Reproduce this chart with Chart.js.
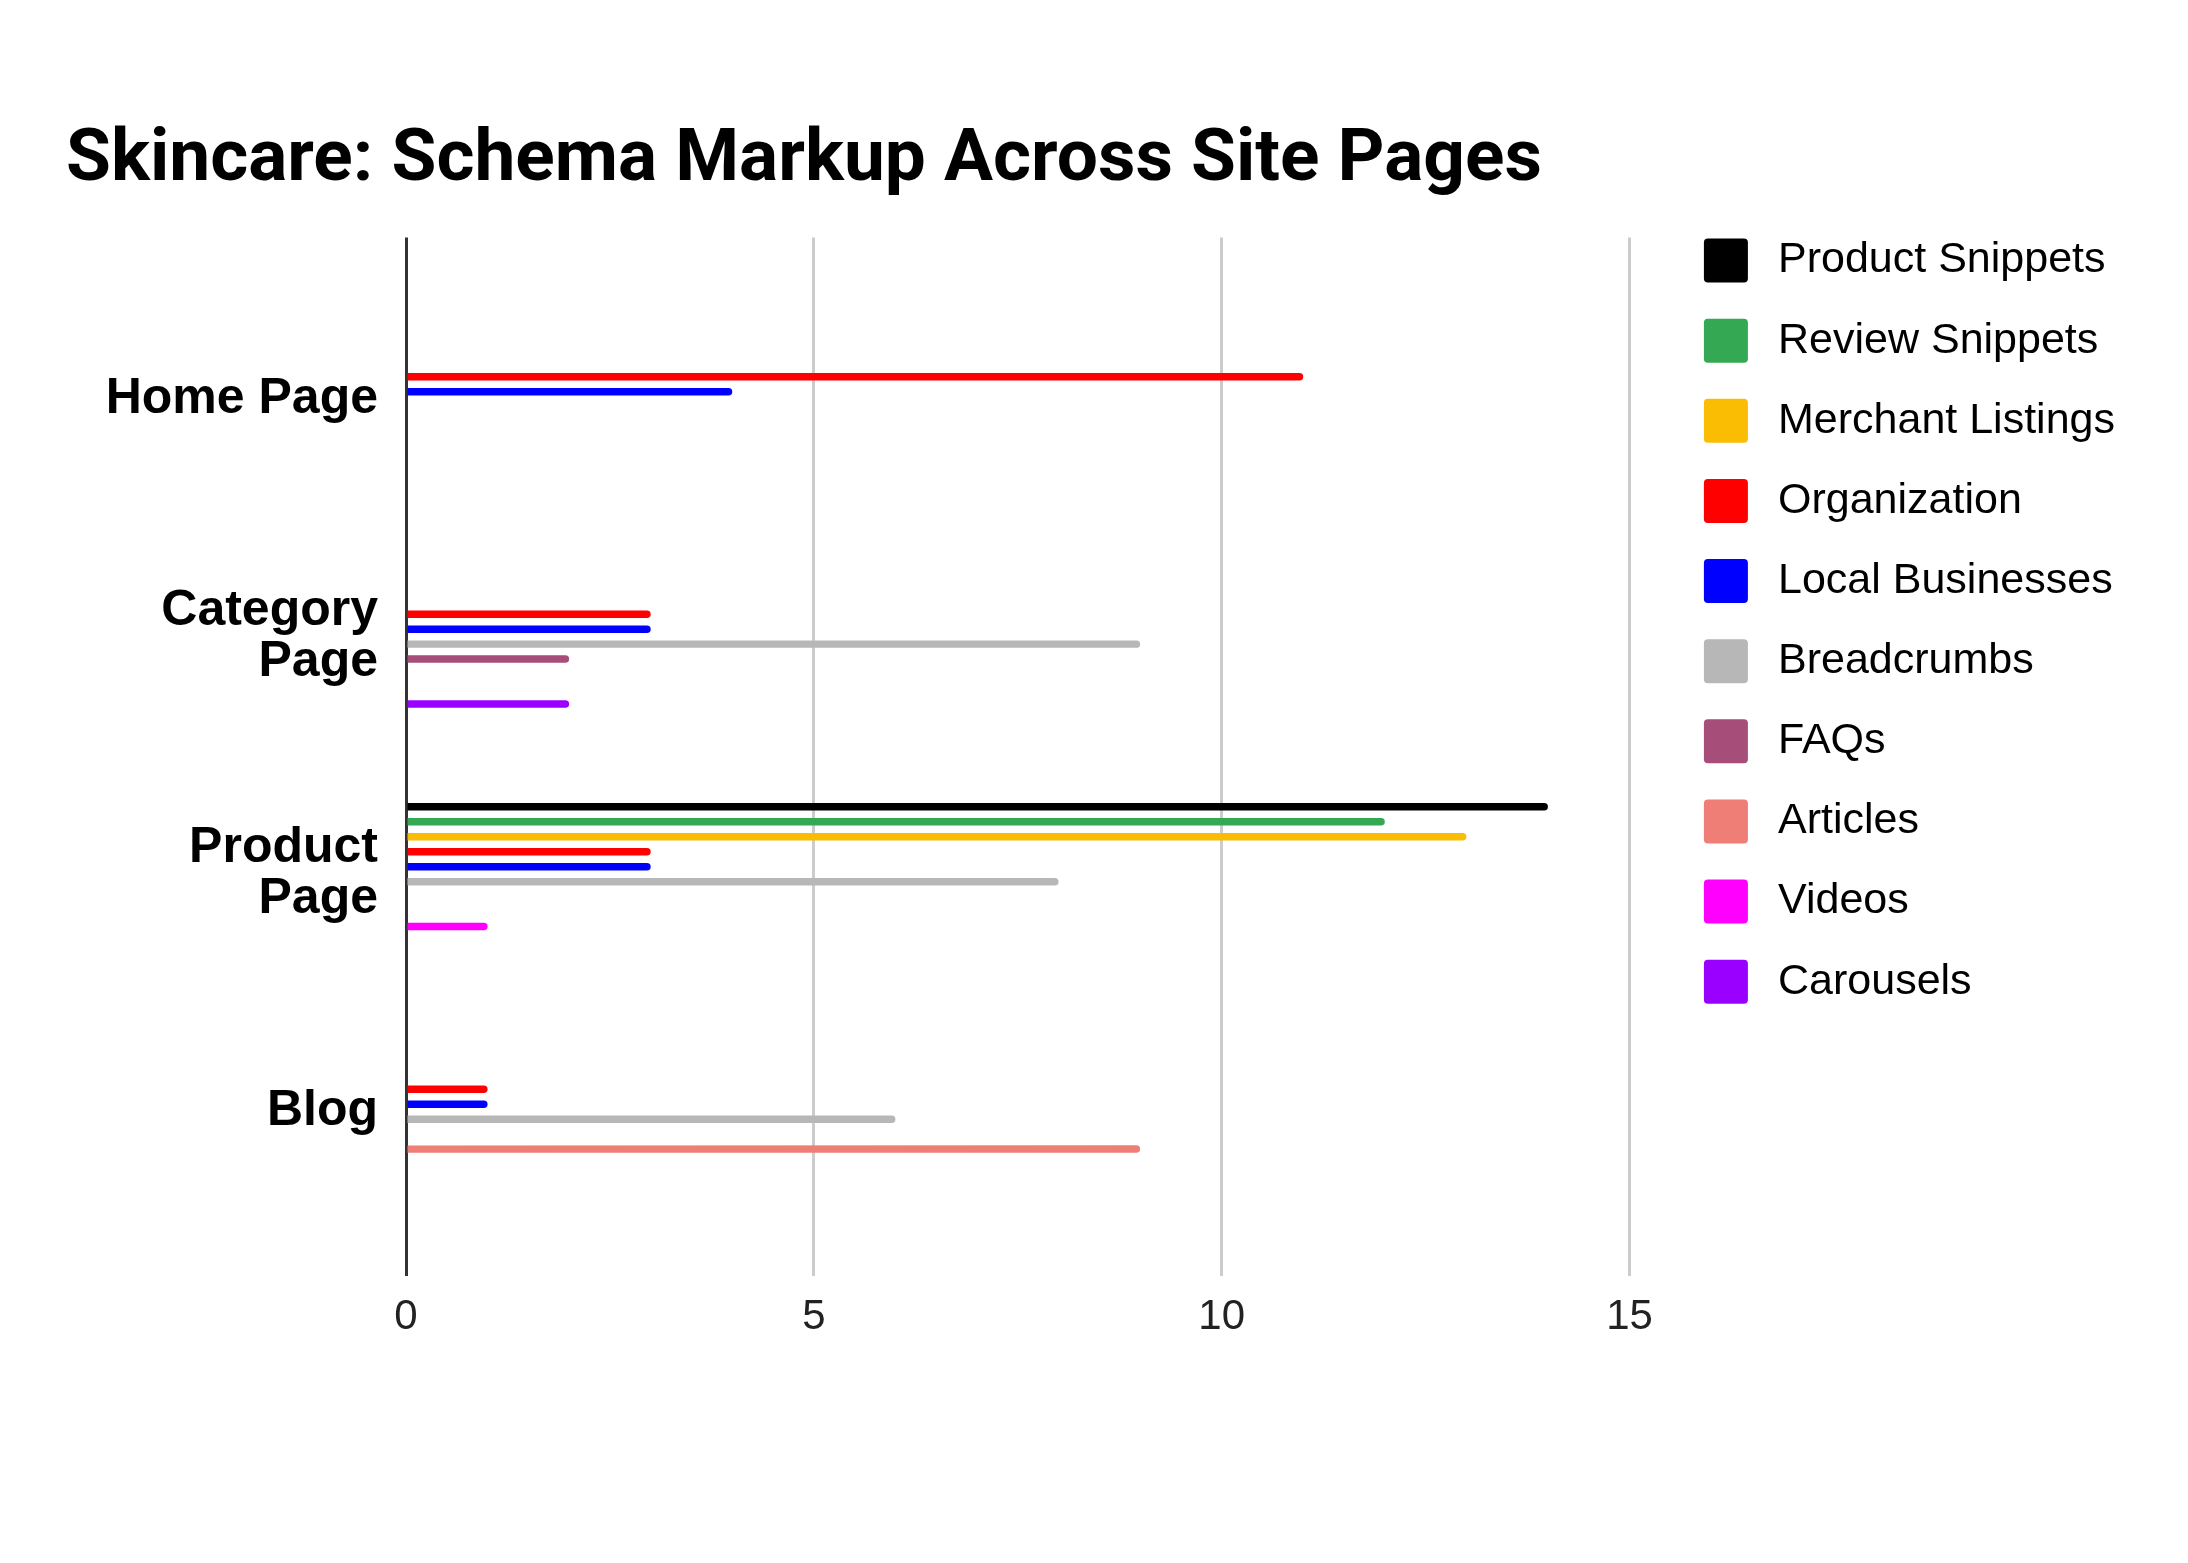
<!DOCTYPE html>
<html>
<head>
<meta charset="utf-8">
<title>Skincare: Schema Markup Across Site Pages</title>
<script src="https://cdn.jsdelivr.net/npm/chart.js@4.4.1/dist/chart.umd.min.js"></script>
<style>
  html, body { margin: 0; padding: 0; background: #fff; }
  canvas { display: block; }
</style>
</head>
<body>
<canvas id="schemaChart" width="2188" height="1563"></canvas>
<script>
// pages (y categories) and how their tick labels wrap
const pages = ['Home Page', 'Category Page', 'Product Page', 'Blog'];
const pageTickLabels = [['Home Page'], ['Category', 'Page'], ['Product', 'Page'], ['Blog']];

// x axis ticks
const xTicks = [0, 5, 10, 15];

// series, one value per page (null = not present)
const seriesNames = ['Product Snippets', 'Review Snippets', 'Merchant Listings', 'Organization',
    'Local Businesses', 'Breadcrumbs', 'FAQs', 'Articles', 'Videos', 'Carousels'];
const seriesColors = ['#000000', '#34a853', '#fbbc04', '#ff0000', '#0000ff',
    '#b7b7b7', '#a64d79', '#ee7e76', '#ff00ff', '#9900ff'];

const productSnippets = [null, null, 14, null];
const reviewSnippets = [null, null, 12, null];
const merchantListings = [null, null, 13, null];
const organization = [11, 3, 3, 1];
const localBusinesses = [4, 3, 3, 1];
const breadcrumbs = [null, 9, 8, 6];
const faqs = [null, 2, null, null];
const articles = [null, null, null, 9];
const videos = [null, null, 1, null];
const carousels = [null, 2, null, null];

const seriesValues = [productSnippets, reviewSnippets, merchantListings, organization,
    localBusinesses, breadcrumbs, faqs, articles, videos, carousels];

const datasets = seriesNames.map((name, s) => ({
    label: name,
    data: seriesValues[s].map((v, i) => ({ x: v, y: i })),
    backgroundColor: seriesColors[s],
    borderWidth: 0,
    borderRadius: 4,
    borderSkipped: 'start',
    categoryPercentage: 0.63,
    barPercentage: 0.5
}));

const labelFont = "'Liberation Sans', Arial, sans-serif";

new Chart(document.getElementById('schemaChart'), {
    type: 'bar',
    data: { datasets },
    options: {
        indexAxis: 'y',
        responsive: false,
        animation: false,
        devicePixelRatio: 1,
        layout: { padding: { left: 66, right: 63, top: 0, bottom: 203 } },
        scales: {
            x: {
                type: 'linear',
                min: 0,
                max: 15.9,
                border: { display: false },
                grid: {
                    drawTicks: false,
                    lineWidth: 3,
                    color: (ctx) => ctx.tick && ctx.tick.value === 0 ? '#333333' : '#cccccc'
                },
                ticks: {
                    stepSize: 5,
                    includeBounds: false,
                    padding: 17,
                    color: '#222222',
                    font: { family: labelFont, size: 42 },
                    callback: (v) => xTicks.includes(v) ? String(v) : ''
                }
            },
            y: {
                type: 'linear',
                reverse: true,
                offset: false,
                min: -0.68,
                max: 3.69,
                border: { display: false },
                grid: { display: false, drawTicks: false, offset: false },
                afterFit: (scale) => { scale.width = 340; },
                ticks: {
                    stepSize: 1,
                    includeBounds: false,
                    padding: 28,
                    color: '#000000',
                    font: { family: labelFont, size: 50, weight: 'bold', lineHeight: 1.02 },
                    callback: (v) => pageTickLabels[v] || ''
                }
            }
        },
        plugins: {
            title: {
                display: true,
                text: 'Skincare: Schema Markup Across Site Pages',
                align: 'start',
                color: '#000000',
                font: { family: 'Roboto', size: 73, weight: 'bold', lineHeight: 1.2 },
                padding: { top: 118, bottom: 32 }
            },
            legend: {
                position: 'right',
                align: 'start',
                fullSize: false,
                labels: {
                    boxWidth: 44,
                    boxHeight: 44,
                    padding: 1,
                    color: '#222222',
                    font: { family: labelFont, size: 43, lineHeight: 1.84 },
                    generateLabels: (chart) => chart.data.datasets.map((ds, i) => ({
                        text: ['\u2009' + ds.label],
                        fillStyle: ds.backgroundColor,
                        strokeStyle: ds.backgroundColor,
                        lineWidth: 0,
                        borderRadius: 4,
                        hidden: !chart.isDatasetVisible(i),
                        datasetIndex: i
                    }))
                }
            },
            tooltip: {
                callbacks: {
                    title: (items) => pages[items[0].parsed.y]
                }
            }
        }
    }
});
</script>
</body>
</html>
